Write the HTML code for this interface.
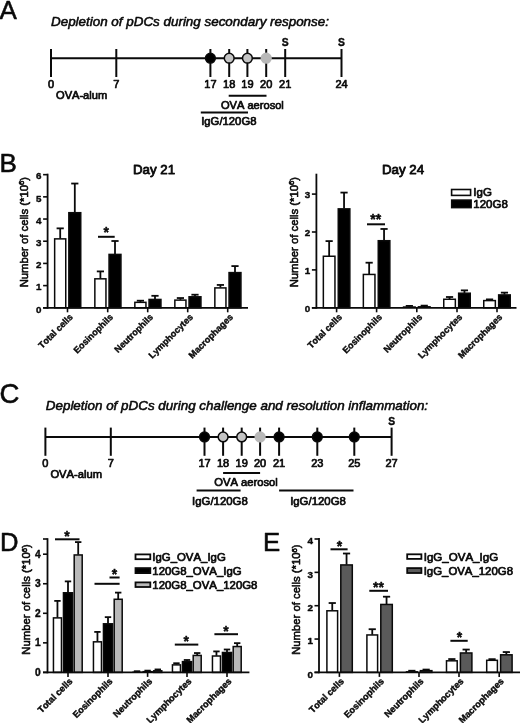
<!DOCTYPE html>
<html><head><meta charset="utf-8"><title>Figure</title>
<style>
html,body{margin:0;padding:0;background:#fff;}
body{width:520px;height:723px;overflow:hidden;}
svg{display:block;}
svg text{font-family:"Liberation Sans",sans-serif;fill:#0a0a0a;stroke:#0a0a0a;stroke-width:0.7px;font-kerning:none;stroke-linejoin:round;}
svg text.b{stroke-width:0.4px;}
svg text.pl{stroke-width:0.55px;}
svg text.h{stroke-width:0.8px;}
svg text.ttl{stroke-width:0.55px;}
svg text.yt{stroke-width:0.6px;}
</style></head><body>
<svg width="520" height="723" viewBox="0 0 520 723">
<rect x="0" y="0" width="520" height="723" fill="#fff"/>
<text x="-0.5" y="18.8" font-size="26" text-anchor="start" font-weight="normal" font-style="normal" class="pl">A</text>
<text x="51" y="25.6" font-size="13.42" text-anchor="start" font-weight="normal" font-style="italic" class="ttl">Depletion of pDCs during secondary response:</text>
<line x1="51" y1="58.2" x2="341.5" y2="58.2" stroke="#0a0a0a" stroke-width="2.0"/>
<line x1="51" y1="49" x2="51" y2="77" stroke="#0a0a0a" stroke-width="2.0"/>
<line x1="116.3" y1="49" x2="116.3" y2="77" stroke="#0a0a0a" stroke-width="2.0"/>
<line x1="210.4" y1="49" x2="210.4" y2="77" stroke="#0a0a0a" stroke-width="2.0"/>
<line x1="229.2" y1="49" x2="229.2" y2="77" stroke="#0a0a0a" stroke-width="2.0"/>
<line x1="247.4" y1="49" x2="247.4" y2="77" stroke="#0a0a0a" stroke-width="2.0"/>
<line x1="266.2" y1="49" x2="266.2" y2="77" stroke="#0a0a0a" stroke-width="2.0"/>
<line x1="285.2" y1="49" x2="285.2" y2="77" stroke="#0a0a0a" stroke-width="2.0"/>
<line x1="341.5" y1="49" x2="341.5" y2="77" stroke="#0a0a0a" stroke-width="2.0"/>
<circle cx="210.4" cy="58.2" r="4.9" fill="#000" stroke="#0a0a0a" stroke-width="1.5"/>
<circle cx="229.2" cy="58.2" r="4.9" fill="#c4c4c4" stroke="#0a0a0a" stroke-width="1.5"/>
<circle cx="247.4" cy="58.2" r="4.9" fill="#c4c4c4" stroke="#0a0a0a" stroke-width="1.5"/>
<circle cx="266.2" cy="58.2" r="4.9" fill="#b8b8b8" stroke="#b8b8b8" stroke-width="1.5"/>
<text x="51" y="88.3" font-size="11" text-anchor="middle" font-weight="normal" font-style="normal" >0</text>
<text x="116.3" y="88.3" font-size="11" text-anchor="middle" font-weight="normal" font-style="normal" >7</text>
<text x="210.4" y="88.3" font-size="11" text-anchor="middle" font-weight="normal" font-style="normal" >17</text>
<text x="229.2" y="88.3" font-size="11" text-anchor="middle" font-weight="normal" font-style="normal" >18</text>
<text x="247.4" y="88.3" font-size="11" text-anchor="middle" font-weight="normal" font-style="normal" >19</text>
<text x="266.2" y="88.3" font-size="11" text-anchor="middle" font-weight="normal" font-style="normal" >20</text>
<text x="285.2" y="88.3" font-size="11" text-anchor="middle" font-weight="normal" font-style="normal" >21</text>
<text x="341.5" y="88.3" font-size="11" text-anchor="middle" font-weight="normal" font-style="normal" >24</text>
<text x="285.3" y="46" font-size="10.3" text-anchor="middle" font-weight="bold" font-style="normal" class="b">S</text>
<text x="341.5" y="46" font-size="10.3" text-anchor="middle" font-weight="bold" font-style="normal" class="b">S</text>
<text x="56" y="99.3" font-size="11.1" text-anchor="start" font-weight="normal" font-style="normal" >OVA-alum</text>
<line x1="228.7" y1="95.8" x2="266.5" y2="95.8" stroke="#0a0a0a" stroke-width="2.0"/>
<text x="252.4" y="109" font-size="11.1" text-anchor="middle" font-weight="normal" font-style="normal" >OVA aerosol</text>
<line x1="200.8" y1="112.5" x2="248" y2="112.5" stroke="#0a0a0a" stroke-width="2.0"/>
<text x="201.2" y="125" font-size="11.3" text-anchor="start" font-weight="normal" font-style="normal" >IgG/120G8</text>
<text x="-0.5" y="171.5" font-size="26" text-anchor="start" font-weight="normal" font-style="normal" class="pl">B</text>
<line x1="67.5" y1="307.8" x2="67.5" y2="312.3" stroke="#0a0a0a" stroke-width="1.6"/>
<line x1="60.2" y1="238.6234" x2="60.2" y2="228.3598" stroke="#0a0a0a" stroke-width="1.8"/>
<line x1="56.6" y1="228.3598" x2="63.800000000000004" y2="228.3598" stroke="#0a0a0a" stroke-width="1.8"/>
<rect x="54.65" y="238.87" width="11.1" height="68.93" fill="#fff" stroke="#0a0a0a" stroke-width="1.5"/>
<line x1="74.8" y1="212.4392" x2="74.8" y2="183.536" stroke="#0a0a0a" stroke-width="1.8"/>
<line x1="71.2" y1="183.536" x2="78.39999999999999" y2="183.536" stroke="#0a0a0a" stroke-width="1.8"/>
<rect x="68.85" y="212.69" width="11.9" height="95.11" fill="#000" stroke="#0a0a0a" stroke-width="1.5"/>
<line x1="107.7" y1="307.8" x2="107.7" y2="312.3" stroke="#0a0a0a" stroke-width="1.6"/>
<line x1="100.4" y1="278.5654" x2="100.4" y2="271.40840000000003" stroke="#0a0a0a" stroke-width="1.8"/>
<line x1="96.80000000000001" y1="271.40840000000003" x2="104.0" y2="271.40840000000003" stroke="#0a0a0a" stroke-width="1.8"/>
<rect x="94.85" y="278.82" width="11.1" height="28.98" fill="#fff" stroke="#0a0a0a" stroke-width="1.5"/>
<line x1="115.0" y1="254.15640000000002" x2="115.0" y2="241.0081" stroke="#0a0a0a" stroke-width="1.8"/>
<line x1="111.4" y1="241.0081" x2="118.6" y2="241.0081" stroke="#0a0a0a" stroke-width="1.8"/>
<rect x="109.05" y="254.41" width="11.9" height="53.39" fill="#000" stroke="#0a0a0a" stroke-width="1.5"/>
<line x1="147.7" y1="307.8" x2="147.7" y2="312.3" stroke="#0a0a0a" stroke-width="1.6"/>
<line x1="140.39999999999998" y1="302.0868" x2="140.39999999999998" y2="300.6992" stroke="#0a0a0a" stroke-width="1.8"/>
<line x1="136.79999999999998" y1="300.6992" x2="143.99999999999997" y2="300.6992" stroke="#0a0a0a" stroke-width="1.8"/>
<rect x="134.85" y="302.34" width="11.1" height="5.46" fill="#fff" stroke="#0a0a0a" stroke-width="1.5"/>
<line x1="155.0" y1="299.20210000000003" x2="155.0" y2="295.8174" stroke="#0a0a0a" stroke-width="1.8"/>
<line x1="151.4" y1="295.8174" x2="158.6" y2="295.8174" stroke="#0a0a0a" stroke-width="1.8"/>
<rect x="149.05" y="299.45" width="11.9" height="8.35" fill="#000" stroke="#0a0a0a" stroke-width="1.5"/>
<line x1="187.7" y1="307.8" x2="187.7" y2="312.3" stroke="#0a0a0a" stroke-width="1.6"/>
<line x1="180.39999999999998" y1="299.8678" x2="180.39999999999998" y2="298.0364" stroke="#0a0a0a" stroke-width="1.8"/>
<line x1="176.79999999999998" y1="298.0364" x2="183.99999999999997" y2="298.0364" stroke="#0a0a0a" stroke-width="1.8"/>
<rect x="174.85" y="300.12" width="11.1" height="7.68" fill="#fff" stroke="#0a0a0a" stroke-width="1.5"/>
<line x1="195.0" y1="296.5393" x2="195.0" y2="294.7079" stroke="#0a0a0a" stroke-width="1.8"/>
<line x1="191.4" y1="294.7079" x2="198.6" y2="294.7079" stroke="#0a0a0a" stroke-width="1.8"/>
<rect x="189.05" y="296.79" width="11.9" height="11.01" fill="#000" stroke="#0a0a0a" stroke-width="1.5"/>
<line x1="227.7" y1="307.8" x2="227.7" y2="312.3" stroke="#0a0a0a" stroke-width="1.6"/>
<line x1="220.39999999999998" y1="287.6633" x2="220.39999999999998" y2="284.9443" stroke="#0a0a0a" stroke-width="1.8"/>
<line x1="216.79999999999998" y1="284.9443" x2="223.99999999999997" y2="284.9443" stroke="#0a0a0a" stroke-width="1.8"/>
<rect x="214.85" y="287.91" width="11.1" height="19.89" fill="#fff" stroke="#0a0a0a" stroke-width="1.5"/>
<line x1="235.0" y1="272.3522" x2="235.0" y2="266.0828" stroke="#0a0a0a" stroke-width="1.8"/>
<line x1="231.4" y1="266.0828" x2="238.6" y2="266.0828" stroke="#0a0a0a" stroke-width="1.8"/>
<rect x="229.05" y="272.6" width="11.9" height="35.2" fill="#000" stroke="#0a0a0a" stroke-width="1.5"/>
<line x1="47.6" y1="173.7" x2="47.6" y2="308.7" stroke="#0a0a0a" stroke-width="1.8"/>
<line x1="43.1" y1="307.8" x2="248" y2="307.8" stroke="#0a0a0a" stroke-width="1.8"/>
<line x1="43.1" y1="307.8" x2="47.6" y2="307.8" stroke="#0a0a0a" stroke-width="1.6"/>
<text x="41.4" y="312.63" font-size="9.8" text-anchor="end" font-weight="bold" font-style="normal" class="b">0</text>
<line x1="43.1" y1="285.61" x2="47.6" y2="285.61" stroke="#0a0a0a" stroke-width="1.6"/>
<text x="41.4" y="290.44" font-size="9.8" text-anchor="end" font-weight="bold" font-style="normal" class="b">1</text>
<line x1="43.1" y1="263.42" x2="47.6" y2="263.42" stroke="#0a0a0a" stroke-width="1.6"/>
<text x="41.4" y="268.25" font-size="9.8" text-anchor="end" font-weight="bold" font-style="normal" class="b">2</text>
<line x1="43.1" y1="241.23000000000002" x2="47.6" y2="241.23000000000002" stroke="#0a0a0a" stroke-width="1.6"/>
<text x="41.4" y="246.06" font-size="9.8" text-anchor="end" font-weight="bold" font-style="normal" class="b">3</text>
<line x1="43.1" y1="219.04000000000002" x2="47.6" y2="219.04000000000002" stroke="#0a0a0a" stroke-width="1.6"/>
<text x="41.4" y="223.87" font-size="9.8" text-anchor="end" font-weight="bold" font-style="normal" class="b">4</text>
<line x1="43.1" y1="196.85000000000002" x2="47.6" y2="196.85000000000002" stroke="#0a0a0a" stroke-width="1.6"/>
<text x="41.4" y="201.68" font-size="9.8" text-anchor="end" font-weight="bold" font-style="normal" class="b">5</text>
<line x1="43.1" y1="174.66" x2="47.6" y2="174.66" stroke="#0a0a0a" stroke-width="1.6"/>
<text x="41.4" y="179.49" font-size="9.8" text-anchor="end" font-weight="bold" font-style="normal" class="b">6</text>
<text x="154" y="173.5" font-size="13.3" text-anchor="middle" font-weight="normal" font-style="normal" class="h">Day 21</text>
<text transform="translate(27.5,232.2) rotate(-90)" font-size="11.3" text-anchor="middle" class="yt">Number of cells (*10<tspan font-size="7.6" dy="-3.6">6</tspan><tspan dy="3.6">)</tspan></text>
<text transform="translate(73.4,317.7) rotate(-45)" font-size="9.05" text-anchor="end" font-weight="bold" class="b">Total cells</text>
<text transform="translate(113.6,317.7) rotate(-45)" font-size="9.05" text-anchor="end" font-weight="bold" class="b">Eosinophils</text>
<text transform="translate(153.6,317.7) rotate(-45)" font-size="9.05" text-anchor="end" font-weight="bold" class="b">Neutrophils</text>
<text transform="translate(193.6,317.7) rotate(-45)" font-size="9.05" text-anchor="end" font-weight="bold" class="b">Lymphocytes</text>
<text transform="translate(233.6,317.7) rotate(-45)" font-size="9.05" text-anchor="end" font-weight="bold" class="b">Macrophages</text>
<line x1="98" y1="236.8" x2="114.7" y2="236.8" stroke="#0a0a0a" stroke-width="2.0"/>
<text x="106.3" y="236.5" font-size="14" text-anchor="middle" font-weight="bold" font-style="normal" class="b">*</text>
<line x1="336.6" y1="307.8" x2="336.6" y2="312.3" stroke="#0a0a0a" stroke-width="1.6"/>
<line x1="329.15000000000003" y1="255.99800000000002" x2="329.15000000000003" y2="241.096" stroke="#0a0a0a" stroke-width="1.8"/>
<line x1="325.55" y1="241.096" x2="332.75000000000006" y2="241.096" stroke="#0a0a0a" stroke-width="1.8"/>
<rect x="323.35" y="256.25" width="11.6" height="51.55" fill="#fff" stroke="#0a0a0a" stroke-width="1.5"/>
<line x1="344.05" y1="208.62300000000002" x2="344.05" y2="192.584" stroke="#0a0a0a" stroke-width="1.8"/>
<line x1="340.45" y1="192.584" x2="347.65000000000003" y2="192.584" stroke="#0a0a0a" stroke-width="1.8"/>
<rect x="338.25" y="208.87" width="11.6" height="98.93" fill="#000" stroke="#0a0a0a" stroke-width="1.5"/>
<line x1="376.6" y1="307.8" x2="376.6" y2="312.3" stroke="#0a0a0a" stroke-width="1.6"/>
<line x1="369.15000000000003" y1="274.19" x2="369.15000000000003" y2="262.699" stroke="#0a0a0a" stroke-width="1.8"/>
<line x1="365.55" y1="262.699" x2="372.75000000000006" y2="262.699" stroke="#0a0a0a" stroke-width="1.8"/>
<rect x="363.35" y="274.44" width="11.6" height="33.36" fill="#fff" stroke="#0a0a0a" stroke-width="1.5"/>
<line x1="384.05" y1="240.459" x2="384.05" y2="228.96800000000002" stroke="#0a0a0a" stroke-width="1.8"/>
<line x1="380.45" y1="228.96800000000002" x2="387.65000000000003" y2="228.96800000000002" stroke="#0a0a0a" stroke-width="1.8"/>
<rect x="378.25" y="240.71" width="11.6" height="67.09" fill="#000" stroke="#0a0a0a" stroke-width="1.5"/>
<line x1="416.8" y1="307.8" x2="416.8" y2="312.3" stroke="#0a0a0a" stroke-width="1.6"/>
<line x1="409.35" y1="306.784" x2="409.35" y2="305.90500000000003" stroke="#0a0a0a" stroke-width="1.8"/>
<line x1="405.75" y1="305.90500000000003" x2="412.95000000000005" y2="305.90500000000003" stroke="#0a0a0a" stroke-width="1.8"/>
<rect x="402.8" y="306.28" width="13.1" height="1.52" fill="#0a0a0a"/>
<line x1="424.25" y1="306.59450000000004" x2="424.25" y2="305.6397" stroke="#0a0a0a" stroke-width="1.8"/>
<line x1="420.65" y1="305.6397" x2="427.85" y2="305.6397" stroke="#0a0a0a" stroke-width="1.8"/>
<rect x="417.7" y="306.09" width="13.1" height="1.71" fill="#000"/>
<line x1="457" y1="307.8" x2="457" y2="312.3" stroke="#0a0a0a" stroke-width="1.6"/>
<line x1="449.55" y1="299.0145" x2="449.55" y2="296.99850000000004" stroke="#0a0a0a" stroke-width="1.8"/>
<line x1="445.95" y1="296.99850000000004" x2="453.15000000000003" y2="296.99850000000004" stroke="#0a0a0a" stroke-width="1.8"/>
<rect x="443.75" y="299.26" width="11.6" height="8.54" fill="#fff" stroke="#0a0a0a" stroke-width="1.5"/>
<line x1="464.45" y1="292.95050000000003" x2="464.45" y2="290.366" stroke="#0a0a0a" stroke-width="1.8"/>
<line x1="460.84999999999997" y1="290.366" x2="468.05" y2="290.366" stroke="#0a0a0a" stroke-width="1.8"/>
<rect x="458.65" y="293.2" width="11.6" height="14.6" fill="#000" stroke="#0a0a0a" stroke-width="1.5"/>
<line x1="497" y1="307.8" x2="497" y2="312.3" stroke="#0a0a0a" stroke-width="1.6"/>
<line x1="489.55" y1="300.341" x2="489.55" y2="299.38620000000003" stroke="#0a0a0a" stroke-width="1.8"/>
<line x1="485.95" y1="299.38620000000003" x2="493.15000000000003" y2="299.38620000000003" stroke="#0a0a0a" stroke-width="1.8"/>
<rect x="483.75" y="300.59" width="11.6" height="7.21" fill="#fff" stroke="#0a0a0a" stroke-width="1.5"/>
<line x1="504.45" y1="294.656" x2="504.45" y2="292.64" stroke="#0a0a0a" stroke-width="1.8"/>
<line x1="500.84999999999997" y1="292.64" x2="508.05" y2="292.64" stroke="#0a0a0a" stroke-width="1.8"/>
<rect x="498.65" y="294.91" width="11.6" height="12.89" fill="#000" stroke="#0a0a0a" stroke-width="1.5"/>
<line x1="316.4" y1="173.7" x2="316.4" y2="308.7" stroke="#0a0a0a" stroke-width="1.8"/>
<line x1="311.9" y1="307.8" x2="516.5" y2="307.8" stroke="#0a0a0a" stroke-width="1.8"/>
<line x1="311.9" y1="307.8" x2="316.4" y2="307.8" stroke="#0a0a0a" stroke-width="1.6"/>
<text x="310.2" y="312.03" font-size="9.8" text-anchor="end" font-weight="bold" font-style="normal" class="b">0</text>
<line x1="311.9" y1="269.90000000000003" x2="316.4" y2="269.90000000000003" stroke="#0a0a0a" stroke-width="1.6"/>
<text x="310.2" y="274.13" font-size="9.8" text-anchor="end" font-weight="bold" font-style="normal" class="b">1</text>
<line x1="311.9" y1="232.0" x2="316.4" y2="232.0" stroke="#0a0a0a" stroke-width="1.6"/>
<text x="310.2" y="236.23" font-size="9.8" text-anchor="end" font-weight="bold" font-style="normal" class="b">2</text>
<line x1="311.9" y1="194.10000000000002" x2="316.4" y2="194.10000000000002" stroke="#0a0a0a" stroke-width="1.6"/>
<text x="310.2" y="198.33" font-size="9.8" text-anchor="end" font-weight="bold" font-style="normal" class="b">3</text>
<text x="403" y="173.5" font-size="13.3" text-anchor="middle" font-weight="normal" font-style="normal" class="h">Day 24</text>
<text transform="translate(298,232.2) rotate(-90)" font-size="11.3" text-anchor="middle" class="yt">Number of cells (*10<tspan font-size="7.6" dy="-3.6">6</tspan><tspan dy="3.6">)</tspan></text>
<text transform="translate(342.5,317.7) rotate(-45)" font-size="9.05" text-anchor="end" font-weight="bold" class="b">Total cells</text>
<text transform="translate(382.5,317.7) rotate(-45)" font-size="9.05" text-anchor="end" font-weight="bold" class="b">Eosinophils</text>
<text transform="translate(422.7,317.7) rotate(-45)" font-size="9.05" text-anchor="end" font-weight="bold" class="b">Neutrophils</text>
<text transform="translate(462.9,317.7) rotate(-45)" font-size="9.05" text-anchor="end" font-weight="bold" class="b">Lymphocytes</text>
<text transform="translate(502.9,317.7) rotate(-45)" font-size="9.05" text-anchor="end" font-weight="bold" class="b">Macrophages</text>
<line x1="367" y1="224.3" x2="385" y2="224.3" stroke="#0a0a0a" stroke-width="2.0"/>
<text x="375.8" y="223.8" font-size="14" text-anchor="middle" font-weight="bold" font-style="normal" class="b">**</text>
<rect x="451.6" y="189.5" width="19" height="5.9" fill="#fff" stroke="#0a0a0a" stroke-width="1.6"/>
<text x="473.3" y="196.4" font-size="11.5" text-anchor="start" font-weight="normal" font-style="normal" >IgG</text>
<rect x="451.6" y="200" width="19.6" height="7.7" fill="#000" stroke="#0a0a0a" stroke-width="1.4"/>
<text x="473.3" y="207.9" font-size="11.5" text-anchor="start" font-weight="normal" font-style="normal" >120G8</text>
<text x="-0.4" y="402.8" font-size="27.5" text-anchor="start" font-weight="normal" font-style="normal" class="pl">C</text>
<text x="45.8" y="410.2" font-size="13.42" text-anchor="start" font-weight="normal" font-style="italic" class="ttl">Depletion of pDCs during challenge and resolution inflammation:</text>
<line x1="45.4" y1="436.9" x2="391.6" y2="436.9" stroke="#0a0a0a" stroke-width="2.0"/>
<line x1="45.4" y1="427.6" x2="45.4" y2="455.8" stroke="#0a0a0a" stroke-width="2.0"/>
<line x1="110.8" y1="427.6" x2="110.8" y2="455.8" stroke="#0a0a0a" stroke-width="2.0"/>
<line x1="204.5" y1="427.6" x2="204.5" y2="455.8" stroke="#0a0a0a" stroke-width="2.0"/>
<line x1="223.1" y1="427.6" x2="223.1" y2="455.8" stroke="#0a0a0a" stroke-width="2.0"/>
<line x1="241.7" y1="427.6" x2="241.7" y2="455.8" stroke="#0a0a0a" stroke-width="2.0"/>
<line x1="260.1" y1="427.6" x2="260.1" y2="455.8" stroke="#0a0a0a" stroke-width="2.0"/>
<line x1="279.1" y1="427.6" x2="279.1" y2="455.8" stroke="#0a0a0a" stroke-width="2.0"/>
<line x1="317.3" y1="427.6" x2="317.3" y2="455.8" stroke="#0a0a0a" stroke-width="2.0"/>
<line x1="354.3" y1="427.6" x2="354.3" y2="455.8" stroke="#0a0a0a" stroke-width="2.0"/>
<line x1="391.6" y1="427.6" x2="391.6" y2="455.8" stroke="#0a0a0a" stroke-width="2.0"/>
<circle cx="204.5" cy="436.9" r="4.9" fill="#000" stroke="#0a0a0a" stroke-width="1.5"/>
<circle cx="223.1" cy="436.9" r="4.9" fill="#c4c4c4" stroke="#0a0a0a" stroke-width="1.5"/>
<circle cx="241.7" cy="436.9" r="4.9" fill="#c4c4c4" stroke="#0a0a0a" stroke-width="1.5"/>
<circle cx="260.1" cy="436.9" r="4.9" fill="#b8b8b8" stroke="#b8b8b8" stroke-width="1.5"/>
<circle cx="279.1" cy="436.9" r="4.9" fill="#000" stroke="#0a0a0a" stroke-width="1.5"/>
<circle cx="317.3" cy="436.9" r="4.9" fill="#000" stroke="#0a0a0a" stroke-width="1.5"/>
<circle cx="354.3" cy="436.9" r="4.9" fill="#000" stroke="#0a0a0a" stroke-width="1.5"/>
<text x="45.4" y="467.3" font-size="11" text-anchor="middle" font-weight="normal" font-style="normal" >0</text>
<text x="110.8" y="467.3" font-size="11" text-anchor="middle" font-weight="normal" font-style="normal" >7</text>
<text x="204.5" y="467.3" font-size="11" text-anchor="middle" font-weight="normal" font-style="normal" >17</text>
<text x="223.1" y="467.3" font-size="11" text-anchor="middle" font-weight="normal" font-style="normal" >18</text>
<text x="241.7" y="467.3" font-size="11" text-anchor="middle" font-weight="normal" font-style="normal" >19</text>
<text x="260.1" y="467.3" font-size="11" text-anchor="middle" font-weight="normal" font-style="normal" >20</text>
<text x="279.1" y="467.3" font-size="11" text-anchor="middle" font-weight="normal" font-style="normal" >21</text>
<text x="317.3" y="467.3" font-size="11" text-anchor="middle" font-weight="normal" font-style="normal" >23</text>
<text x="354.3" y="467.3" font-size="11" text-anchor="middle" font-weight="normal" font-style="normal" >25</text>
<text x="391.6" y="467.3" font-size="11" text-anchor="middle" font-weight="normal" font-style="normal" >27</text>
<text x="391.6" y="424.5" font-size="10.3" text-anchor="middle" font-weight="bold" font-style="normal" class="b">S</text>
<text x="50.4" y="478.4" font-size="11.2" text-anchor="start" font-weight="normal" font-style="normal" >OVA-alum</text>
<line x1="223.1" y1="473" x2="260.1" y2="473" stroke="#0a0a0a" stroke-width="2.0"/>
<text x="246" y="486.3" font-size="11.2" text-anchor="middle" font-weight="normal" font-style="normal" >OVA aerosol</text>
<line x1="196.6" y1="490.4" x2="240.6" y2="490.4" stroke="#0a0a0a" stroke-width="2.0"/>
<text x="219.9" y="504.8" font-size="11.4" text-anchor="middle" font-weight="normal" font-style="normal" >IgG/120G8</text>
<line x1="279.1" y1="490.4" x2="353.5" y2="490.4" stroke="#0a0a0a" stroke-width="2.0"/>
<text x="318" y="504.8" font-size="11.4" text-anchor="middle" font-weight="normal" font-style="normal" >IgG/120G8</text>
<text x="0" y="551" font-size="25.6" text-anchor="start" font-weight="normal" font-style="normal" class="pl">D</text>
<line x1="68" y1="672.4" x2="68" y2="676.9" stroke="#0a0a0a" stroke-width="1.6"/>
<line x1="57.45" y1="617.6415" x2="57.45" y2="600.889" stroke="#0a0a0a" stroke-width="1.8"/>
<line x1="54.25" y1="600.889" x2="60.650000000000006" y2="600.889" stroke="#0a0a0a" stroke-width="1.8"/>
<rect x="53.45" y="617.89" width="8.0" height="54.51" fill="#fff" stroke="#0a0a0a" stroke-width="1.5"/>
<line x1="68.0" y1="592.524" x2="68.0" y2="581.386" stroke="#0a0a0a" stroke-width="1.8"/>
<line x1="64.8" y1="581.386" x2="71.2" y2="581.386" stroke="#0a0a0a" stroke-width="1.8"/>
<rect x="63.45" y="592.77" width="9.1" height="79.63" fill="#000" stroke="#0a0a0a" stroke-width="1.5"/>
<line x1="78.2" y1="554.6999999999999" x2="78.2" y2="542.0844999999999" stroke="#0a0a0a" stroke-width="1.8"/>
<line x1="75.0" y1="542.0844999999999" x2="81.4" y2="542.0844999999999" stroke="#0a0a0a" stroke-width="1.8"/>
<rect x="74.2" y="554.95" width="8.0" height="117.45" fill="#b9b9b9" stroke="#0a0a0a" stroke-width="1.5"/>
<line x1="108" y1="672.4" x2="108" y2="676.9" stroke="#0a0a0a" stroke-width="1.6"/>
<line x1="97.45" y1="641.577" x2="97.45" y2="631.9164999999999" stroke="#0a0a0a" stroke-width="1.8"/>
<line x1="94.25" y1="631.9164999999999" x2="100.65" y2="631.9164999999999" stroke="#0a0a0a" stroke-width="1.8"/>
<rect x="93.45" y="641.83" width="8.0" height="30.57" fill="#fff" stroke="#0a0a0a" stroke-width="1.5"/>
<line x1="108.0" y1="623.5515" x2="108.0" y2="617.1415" stroke="#0a0a0a" stroke-width="1.8"/>
<line x1="104.8" y1="617.1415" x2="111.2" y2="617.1415" stroke="#0a0a0a" stroke-width="1.8"/>
<rect x="103.45" y="623.8" width="9.1" height="48.6" fill="#000" stroke="#0a0a0a" stroke-width="1.5"/>
<line x1="118.2" y1="599.025" x2="118.2" y2="592.615" stroke="#0a0a0a" stroke-width="1.8"/>
<line x1="115.0" y1="592.615" x2="121.4" y2="592.615" stroke="#0a0a0a" stroke-width="1.8"/>
<rect x="114.2" y="599.27" width="8.0" height="73.12" fill="#b9b9b9" stroke="#0a0a0a" stroke-width="1.5"/>
<line x1="147.6" y1="672.4" x2="147.6" y2="676.9" stroke="#0a0a0a" stroke-width="1.6"/>
<line x1="137.04999999999998" y1="672.0135" x2="137.04999999999998" y2="671.218" stroke="#0a0a0a" stroke-width="1.8"/>
<line x1="133.85" y1="671.218" x2="140.24999999999997" y2="671.218" stroke="#0a0a0a" stroke-width="1.8"/>
<rect x="132.3" y="671.51" width="9.5" height="1.4" fill="#0a0a0a"/>
<line x1="147.6" y1="671.4225" x2="147.6" y2="670.627" stroke="#0a0a0a" stroke-width="1.8"/>
<line x1="144.4" y1="670.627" x2="150.79999999999998" y2="670.627" stroke="#0a0a0a" stroke-width="1.8"/>
<rect x="142.3" y="670.92" width="10.6" height="1.48" fill="#000"/>
<line x1="157.8" y1="670.536" x2="157.8" y2="669.4449999999999" stroke="#0a0a0a" stroke-width="1.8"/>
<line x1="154.60000000000002" y1="669.4449999999999" x2="161.0" y2="669.4449999999999" stroke="#0a0a0a" stroke-width="1.8"/>
<rect x="153.8" y="670.79" width="8.0" height="1.61" fill="#b9b9b9" stroke="#0a0a0a" stroke-width="1.5"/>
<line x1="187" y1="672.4" x2="187" y2="676.9" stroke="#0a0a0a" stroke-width="1.6"/>
<line x1="176.45" y1="664.626" x2="176.45" y2="663.2395" stroke="#0a0a0a" stroke-width="1.8"/>
<line x1="173.25" y1="663.2395" x2="179.64999999999998" y2="663.2395" stroke="#0a0a0a" stroke-width="1.8"/>
<rect x="172.45" y="664.88" width="8.0" height="7.52" fill="#fff" stroke="#0a0a0a" stroke-width="1.5"/>
<line x1="187.0" y1="661.3755" x2="187.0" y2="659.989" stroke="#0a0a0a" stroke-width="1.8"/>
<line x1="183.8" y1="659.989" x2="190.2" y2="659.989" stroke="#0a0a0a" stroke-width="1.8"/>
<rect x="182.45" y="661.63" width="9.1" height="10.77" fill="#000" stroke="#0a0a0a" stroke-width="1.5"/>
<line x1="197.20000000000002" y1="655.17" x2="197.20000000000002" y2="653.04475" stroke="#0a0a0a" stroke-width="1.8"/>
<line x1="194.00000000000003" y1="653.04475" x2="200.4" y2="653.04475" stroke="#0a0a0a" stroke-width="1.8"/>
<rect x="193.2" y="655.42" width="8.0" height="16.98" fill="#b9b9b9" stroke="#0a0a0a" stroke-width="1.5"/>
<line x1="227" y1="672.4" x2="227" y2="676.9" stroke="#0a0a0a" stroke-width="1.6"/>
<line x1="216.45" y1="655.761" x2="216.45" y2="651.4195" stroke="#0a0a0a" stroke-width="1.8"/>
<line x1="213.25" y1="651.4195" x2="219.64999999999998" y2="651.4195" stroke="#0a0a0a" stroke-width="1.8"/>
<rect x="212.45" y="656.01" width="8.0" height="16.39" fill="#fff" stroke="#0a0a0a" stroke-width="1.5"/>
<line x1="227.0" y1="652.215" x2="227.0" y2="649.49875" stroke="#0a0a0a" stroke-width="1.8"/>
<line x1="223.8" y1="649.49875" x2="230.2" y2="649.49875" stroke="#0a0a0a" stroke-width="1.8"/>
<rect x="222.45" y="652.47" width="9.1" height="19.93" fill="#000" stroke="#0a0a0a" stroke-width="1.5"/>
<line x1="237.20000000000002" y1="646.305" x2="237.20000000000002" y2="643.1455" stroke="#0a0a0a" stroke-width="1.8"/>
<line x1="234.00000000000003" y1="643.1455" x2="240.4" y2="643.1455" stroke="#0a0a0a" stroke-width="1.8"/>
<rect x="233.2" y="646.55" width="8.0" height="25.85" fill="#b9b9b9" stroke="#0a0a0a" stroke-width="1.5"/>
<line x1="47.5" y1="538.2" x2="47.5" y2="673.3" stroke="#0a0a0a" stroke-width="1.8"/>
<line x1="43.0" y1="672.4" x2="249.4" y2="672.4" stroke="#0a0a0a" stroke-width="1.8"/>
<line x1="43.0" y1="672.4" x2="47.5" y2="672.4" stroke="#0a0a0a" stroke-width="1.6"/>
<text x="40.7" y="675.77" font-size="10.2" text-anchor="end" font-weight="bold" font-style="normal" class="b">0</text>
<line x1="43.0" y1="642.85" x2="47.5" y2="642.85" stroke="#0a0a0a" stroke-width="1.6"/>
<text x="40.7" y="646.22" font-size="10.2" text-anchor="end" font-weight="bold" font-style="normal" class="b">1</text>
<line x1="43.0" y1="613.3" x2="47.5" y2="613.3" stroke="#0a0a0a" stroke-width="1.6"/>
<text x="40.7" y="616.67" font-size="10.2" text-anchor="end" font-weight="bold" font-style="normal" class="b">2</text>
<line x1="43.0" y1="583.75" x2="47.5" y2="583.75" stroke="#0a0a0a" stroke-width="1.6"/>
<text x="40.7" y="587.12" font-size="10.2" text-anchor="end" font-weight="bold" font-style="normal" class="b">3</text>
<line x1="43.0" y1="554.1999999999999" x2="47.5" y2="554.1999999999999" stroke="#0a0a0a" stroke-width="1.6"/>
<text x="40.7" y="557.57" font-size="10.2" text-anchor="end" font-weight="bold" font-style="normal" class="b">4</text>
<line x1="43.0" y1="539" x2="47.5" y2="539" stroke="#0a0a0a" stroke-width="1.6"/>
<text transform="translate(30.2,599.5) rotate(-90)" font-size="11.3" text-anchor="middle" class="yt">Number of cells (*10<tspan font-size="7.6" dy="-3.6">6</tspan><tspan dy="3.6">)</tspan></text>
<text transform="translate(73.2,681.8) rotate(-45)" font-size="9.2" text-anchor="end" font-weight="bold" class="b">Total cells</text>
<text transform="translate(113.2,681.8) rotate(-45)" font-size="9.2" text-anchor="end" font-weight="bold" class="b">Eosinophils</text>
<text transform="translate(152.8,681.8) rotate(-45)" font-size="9.2" text-anchor="end" font-weight="bold" class="b">Neutrophils</text>
<text transform="translate(192.2,681.8) rotate(-45)" font-size="9.2" text-anchor="end" font-weight="bold" class="b">Lymphocytes</text>
<text transform="translate(232.2,681.8) rotate(-45)" font-size="9.2" text-anchor="end" font-weight="bold" class="b">Macrophages</text>
<line x1="55" y1="539.3" x2="79.5" y2="539.3" stroke="#0a0a0a" stroke-width="2.0"/>
<text x="67" y="541.3" font-size="14" text-anchor="middle" font-weight="bold" font-style="normal" class="b">*</text>
<line x1="94.5" y1="583.8" x2="119.6" y2="583.8" stroke="#0a0a0a" stroke-width="2.0"/>
<line x1="109.5" y1="577.5" x2="119.6" y2="577.5" stroke="#0a0a0a" stroke-width="2.0"/>
<text x="114.5" y="579" font-size="14" text-anchor="middle" font-weight="bold" font-style="normal" class="b">*</text>
<line x1="174.8" y1="644.6" x2="198.3" y2="644.6" stroke="#0a0a0a" stroke-width="2.0"/>
<text x="186.3" y="645.6" font-size="14" text-anchor="middle" font-weight="bold" font-style="normal" class="b">*</text>
<line x1="214.4" y1="634.2" x2="238" y2="634.2" stroke="#0a0a0a" stroke-width="2.0"/>
<text x="226" y="636" font-size="14" text-anchor="middle" font-weight="bold" font-style="normal" class="b">*</text>
<rect x="135.5" y="554.4" width="14.8" height="4.8" fill="#fff" stroke="#0a0a0a" stroke-width="1.8"/>
<text x="152.3" y="560.8" font-size="11.4" text-anchor="start" font-weight="normal" font-style="normal" >IgG_OVA_IgG</text>
<rect x="135.5" y="568.1" width="14.8" height="5.0" fill="#000" stroke="#0a0a0a" stroke-width="1.8"/>
<text x="152.3" y="574.8" font-size="11.4" text-anchor="start" font-weight="normal" font-style="normal" >120G8_OVA_IgG</text>
<rect x="135.5" y="582.4" width="14.8" height="4.6" fill="#b9b9b9" stroke="#0a0a0a" stroke-width="1.8"/>
<text x="152.3" y="588.9" font-size="11.4" text-anchor="start" font-weight="normal" font-style="normal" >120G8_OVA_120G8</text>
<text x="263" y="551" font-size="25.8" text-anchor="start" font-weight="normal" font-style="normal" class="pl">E</text>
<line x1="339.4" y1="672.4" x2="339.4" y2="676.9" stroke="#0a0a0a" stroke-width="1.6"/>
<line x1="332.25" y1="610.5355" x2="332.25" y2="603.0319999999999" stroke="#0a0a0a" stroke-width="1.8"/>
<line x1="328.65" y1="603.0319999999999" x2="335.85" y2="603.0319999999999" stroke="#0a0a0a" stroke-width="1.8"/>
<rect x="326.9" y="610.79" width="10.7" height="61.61" fill="#fff" stroke="#0a0a0a" stroke-width="1.5"/>
<line x1="346.54999999999995" y1="564.6792499999999" x2="346.54999999999995" y2="553.50725" stroke="#0a0a0a" stroke-width="1.8"/>
<line x1="342.94999999999993" y1="553.50725" x2="350.15" y2="553.50725" stroke="#0a0a0a" stroke-width="1.8"/>
<rect x="340.8" y="564.93" width="11.5" height="107.47" fill="#5a5a5a" stroke="#0a0a0a" stroke-width="1.5"/>
<line x1="379.4" y1="672.4" x2="379.4" y2="676.9" stroke="#0a0a0a" stroke-width="1.6"/>
<line x1="372.25" y1="634.71425" x2="372.25" y2="629.2117499999999" stroke="#0a0a0a" stroke-width="1.8"/>
<line x1="368.65" y1="629.2117499999999" x2="375.85" y2="629.2117499999999" stroke="#0a0a0a" stroke-width="1.8"/>
<rect x="366.9" y="634.96" width="10.7" height="37.44" fill="#fff" stroke="#0a0a0a" stroke-width="1.5"/>
<line x1="386.54999999999995" y1="604.199" x2="386.54999999999995" y2="596.6954999999999" stroke="#0a0a0a" stroke-width="1.8"/>
<line x1="382.94999999999993" y1="596.6954999999999" x2="390.15" y2="596.6954999999999" stroke="#0a0a0a" stroke-width="1.8"/>
<rect x="380.8" y="604.45" width="11.5" height="67.95" fill="#5a5a5a" stroke="#0a0a0a" stroke-width="1.5"/>
<line x1="419" y1="672.4" x2="419" y2="676.9" stroke="#0a0a0a" stroke-width="1.6"/>
<line x1="411.85" y1="671.566" x2="411.85" y2="670.7325" stroke="#0a0a0a" stroke-width="1.8"/>
<line x1="408.25" y1="670.7325" x2="415.45000000000005" y2="670.7325" stroke="#0a0a0a" stroke-width="1.8"/>
<rect x="405.75" y="671.07" width="12.2" height="1.4" fill="#0a0a0a"/>
<line x1="426.15" y1="670.39875" x2="426.15" y2="669.56525" stroke="#0a0a0a" stroke-width="1.8"/>
<line x1="422.54999999999995" y1="669.56525" x2="429.75" y2="669.56525" stroke="#0a0a0a" stroke-width="1.8"/>
<rect x="420.4" y="670.65" width="11.5" height="1.75" fill="#5a5a5a" stroke="#0a0a0a" stroke-width="1.5"/>
<line x1="459" y1="672.4" x2="459" y2="676.9" stroke="#0a0a0a" stroke-width="1.6"/>
<line x1="451.85" y1="660.5604999999999" x2="451.85" y2="659.06" stroke="#0a0a0a" stroke-width="1.8"/>
<line x1="448.25" y1="659.06" x2="455.45000000000005" y2="659.06" stroke="#0a0a0a" stroke-width="1.8"/>
<rect x="446.5" y="660.81" width="10.7" height="11.59" fill="#fff" stroke="#0a0a0a" stroke-width="1.5"/>
<line x1="466.15" y1="652.72325" x2="466.15" y2="649.55525" stroke="#0a0a0a" stroke-width="1.8"/>
<line x1="462.54999999999995" y1="649.55525" x2="469.75" y2="649.55525" stroke="#0a0a0a" stroke-width="1.8"/>
<rect x="460.4" y="652.97" width="11.5" height="19.43" fill="#5a5a5a" stroke="#0a0a0a" stroke-width="1.5"/>
<line x1="499.2" y1="672.4" x2="499.2" y2="676.9" stroke="#0a0a0a" stroke-width="1.6"/>
<line x1="492.05" y1="660.06025" x2="492.05" y2="659.16005" stroke="#0a0a0a" stroke-width="1.8"/>
<line x1="488.45" y1="659.16005" x2="495.65000000000003" y2="659.16005" stroke="#0a0a0a" stroke-width="1.8"/>
<rect x="486.7" y="660.31" width="10.7" height="12.09" fill="#fff" stroke="#0a0a0a" stroke-width="1.5"/>
<line x1="506.34999999999997" y1="654.5575" x2="506.34999999999997" y2="652.0565" stroke="#0a0a0a" stroke-width="1.8"/>
<line x1="502.74999999999994" y1="652.0565" x2="509.95" y2="652.0565" stroke="#0a0a0a" stroke-width="1.8"/>
<rect x="500.6" y="654.81" width="11.5" height="17.59" fill="#5a5a5a" stroke="#0a0a0a" stroke-width="1.5"/>
<line x1="319" y1="538.0" x2="319" y2="673.3" stroke="#0a0a0a" stroke-width="1.8"/>
<line x1="314.5" y1="672.4" x2="520" y2="672.4" stroke="#0a0a0a" stroke-width="1.8"/>
<line x1="314.5" y1="672.4" x2="319" y2="672.4" stroke="#0a0a0a" stroke-width="1.6"/>
<text x="313.0" y="677.76" font-size="9.9" text-anchor="end" font-weight="bold" font-style="normal" class="b">0</text>
<line x1="314.5" y1="639.05" x2="319" y2="639.05" stroke="#0a0a0a" stroke-width="1.6"/>
<text x="313.0" y="644.41" font-size="9.9" text-anchor="end" font-weight="bold" font-style="normal" class="b">1</text>
<line x1="314.5" y1="605.6999999999999" x2="319" y2="605.6999999999999" stroke="#0a0a0a" stroke-width="1.6"/>
<text x="313.0" y="611.06" font-size="9.9" text-anchor="end" font-weight="bold" font-style="normal" class="b">2</text>
<line x1="314.5" y1="572.3499999999999" x2="319" y2="572.3499999999999" stroke="#0a0a0a" stroke-width="1.6"/>
<text x="313.0" y="577.71" font-size="9.9" text-anchor="end" font-weight="bold" font-style="normal" class="b">3</text>
<line x1="314.5" y1="539.0" x2="319" y2="539.0" stroke="#0a0a0a" stroke-width="1.6"/>
<text x="313.0" y="544.36" font-size="9.9" text-anchor="end" font-weight="bold" font-style="normal" class="b">4</text>
<text transform="translate(300.3,599.7) rotate(-90)" font-size="11.3" text-anchor="middle" class="yt">Number of cells (*10<tspan font-size="7.6" dy="-3.6">6</tspan><tspan dy="3.6">)</tspan></text>
<text transform="translate(344.6,681.8) rotate(-45)" font-size="9.2" text-anchor="end" font-weight="bold" class="b">Total cells</text>
<text transform="translate(384.6,681.8) rotate(-45)" font-size="9.2" text-anchor="end" font-weight="bold" class="b">Eosinophils</text>
<text transform="translate(424.2,681.8) rotate(-45)" font-size="9.2" text-anchor="end" font-weight="bold" class="b">Neutrophils</text>
<text transform="translate(464.2,681.8) rotate(-45)" font-size="9.2" text-anchor="end" font-weight="bold" class="b">Lymphocytes</text>
<text transform="translate(504.4,681.8) rotate(-45)" font-size="9.2" text-anchor="end" font-weight="bold" class="b">Macrophages</text>
<line x1="330.5" y1="549.3" x2="347.6" y2="549.3" stroke="#0a0a0a" stroke-width="2.0"/>
<text x="339.5" y="550.5" font-size="14" text-anchor="middle" font-weight="bold" font-style="normal" class="b">*</text>
<line x1="369.3" y1="590.8" x2="388" y2="590.8" stroke="#0a0a0a" stroke-width="2.0"/>
<text x="378.5" y="591.5" font-size="14" text-anchor="middle" font-weight="bold" font-style="normal" class="b">**</text>
<line x1="450.4" y1="640.8" x2="467.7" y2="640.8" stroke="#0a0a0a" stroke-width="2.0"/>
<text x="459.5" y="641.6" font-size="14" text-anchor="middle" font-weight="bold" font-style="normal" class="b">*</text>
<rect x="407.2" y="554.3" width="14.2" height="4.6" fill="#fff" stroke="#0a0a0a" stroke-width="1.8"/>
<text x="423.7" y="560.5" font-size="11.55" text-anchor="start" font-weight="normal" font-style="normal" >IgG_OVA_IgG</text>
<rect x="407.2" y="568.1" width="14.2" height="4.9" fill="#5a5a5a" stroke="#0a0a0a" stroke-width="1.8"/>
<text x="423.7" y="574.6" font-size="11.4" text-anchor="start" font-weight="normal" font-style="normal" >IgG_OVA_120G8</text>
</svg>
</body></html>
